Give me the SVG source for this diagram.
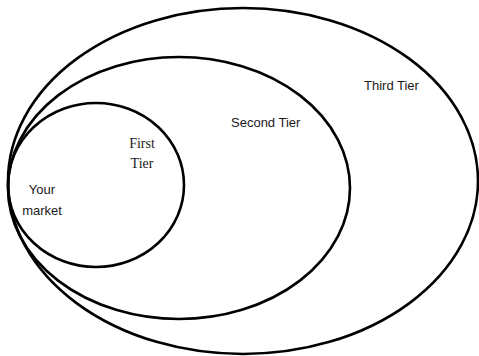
<svg xmlns="http://www.w3.org/2000/svg" width="479" height="356" viewBox="0 0 479 356">
  <style>
    .ring { fill: none; stroke: #000; stroke-width: 2.6; }
    .sans { font-family: "Liberation Sans", Arial, sans-serif; font-size: 13px; fill: #1a1a1a; }
    .serif { font-family: "Liberation Serif", "Times New Roman", serif; font-size: 14px; fill: #1a1a1a; }
  </style>
  <rect width="479" height="356" fill="#fff"/>
  <g id="third-tier">
    <ellipse class="ring" cx="243" cy="181" rx="235" ry="173"/>
    <text class="sans" x="364" y="90">Third Tier</text>
  </g>
  <g id="second-tier">
    <ellipse class="ring" cx="179" cy="188" rx="171" ry="131"/>
    <text class="sans" x="231" y="127">Second Tier</text>
  </g>
  <g id="first-tier">
    <ellipse class="ring" cx="96" cy="185" rx="88" ry="82"/>
    <text class="serif" x="142" y="148" text-anchor="middle">First</text>
    <text class="serif" x="142" y="168" text-anchor="middle">Tier</text>
  </g>
  <g id="your-market">
    <text class="sans" x="42" y="194" text-anchor="middle">Your</text>
    <text class="sans" x="42" y="215" text-anchor="middle">market</text>
  </g>
  <g id="connectors"></g>
</svg>
